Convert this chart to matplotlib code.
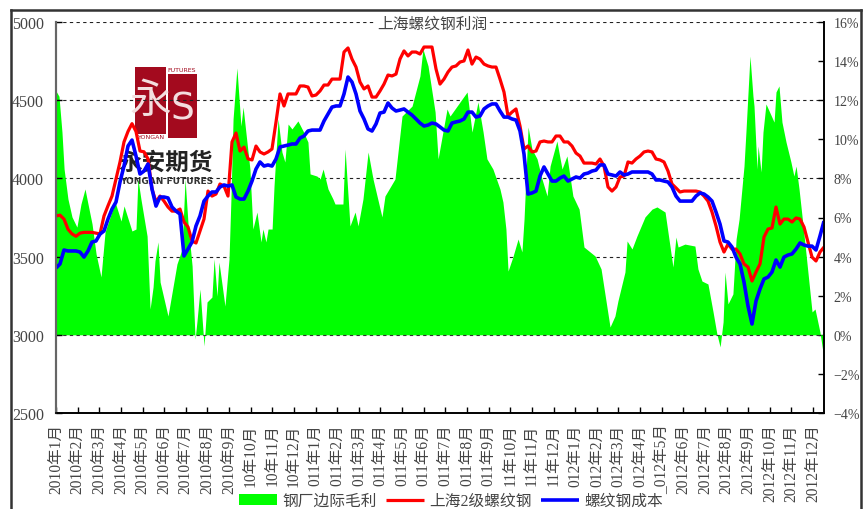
import numpy as np
import matplotlib
matplotlib.use('Agg')
import matplotlib.pyplot as plt
from matplotlib.lines import Line2D
from matplotlib.patches import Rectangle

# months since Jan 2010
margin_months = [0, .14, .28, .38, .56, .75, .98, 1.17, 1.36, 1.5, 1.69, 1.88, 2.11, 2.30, 2.77, 3.05, 3.19, 3.56, 3.75, 3.84, 3.98,
    4.27, 4.41, 4.55, 4.64, 4.78, 4.88, 5.25, 5.67, 5.91, 6.05, 6.19, 6.38, 6.52, 6.61, 6.75, 6.94, 7.08, 7.31, 7.41, 7.55, 7.64,
    7.92, 8.11, 8.2, 8.3, 8.48, 8.67, 8.77, 9.09, 9.23, 9.42, 9.61, 9.7, 9.84, 9.94, 10.13, 10.22, 10.41, 10.59, 10.73, 10.88, 11.06,
    11.34, 11.58, 11.81, 11.91, 12.23, 12.38, 12.52, 12.75, 12.98, 13.08, 13.45, 13.55, 13.78, 14.02, 14.16, 14.39, 14.63, 14.86,
    15.28, 15.42, 15.89, 16.22, 16.69, 17.06, 17.2, 17.44, 17.77, 17.91, 18.33, 18.47, 19.27, 19.5, 19.78, 20.02, 20.2, 20.48, 20.81,
    20.95, 21.09, 21.19, 21.42, 21.66, 21.84, 21.94, 22.13, 22.31, 22.55, 22.78, 23.02, 23.16, 23.48, 23.72, 23.95, 24.23, 24.52,
    24.75, 25.27, 25.55, 25.97, 26.2, 26.34, 26.67, 26.77, 27.0, 27.23, 27.61, 27.94, 28.17, 28.55, 28.92, 29.06, 29.16, 29.48, 29.95,
    30.09, 30.28, 30.56, 30.8, 30.98, 31.13, 31.27, 31.36, 31.5, 31.73, 31.88, 32.02, 32.25, 32.34, 32.53, 32.67, 32.72, 32.86, 32.91,
    33.05, 33.14, 33.28, 33.66, 33.75, 33.89, 34.03, 34.22, 34.45, 34.59, 34.69, 34.83, 35.02, 35.44, 35.58, 35.81, 36.0]
margin_pct = [12.47, 12.2, 10.37, 8.48, 6.95, 6.03, 5.51, 6.69, 7.46, 6.69, 5.67, 4.13, 2.96, 5.26, 6.79, 5.82, 6.59, 5.31, 5.41, 7.97, 6.95,
    5.05, 1.32, 2.44, 3.78, 4.75, 2.70, .96, 3.62, 4.39, 7.97, 5.67, 3.52, -.22, .71, 2.34, -.57, 1.68, 1.93, 3.88, 1.98, 3.72,
    1.47, 3.88, 6.95, 11.04, 13.65, 10.68, 11.65, 8.48, 5.41, 6.28, 4.75, 5.41, 4.75, 5.41, 5.41, 7.61, 11.04, 9.35, 8.84, 10.78, 10.53,
    10.94, 10.43, 9.86, 8.23, 8.12, 7.97, 8.48, 7.46, 6.95, 6.69, 6.69, 9.5, 5.57, 6.28, 5.57, 6.95, 9.35, 7.97,
    6.03, 7.1, 7.97, 11.19, 11.7, 13.24, 14.62, 13.75, 11.4, 9.0, 11.55, 11.19, 12.42, 10.37, 11.91, 10.37, 9.0, 8.48, 7.46,
    6.79, 5.41, 3.26, 4.0, 4.9, 4.24, 5.92, 10.63, 9.5, 9.0, 7.97, 7.1, 8.63, 9.91, 8.48, 9.15, 7.1, 6.43,
    4.49, 4.03, 3.37, .4, .96, 1.73, 3.21, 4.8, 4.39, 5.05, 6.03, 6.43, 6.54, 6.28, 3.47, 5.0, 4.49, 4.64, 4.54,
    3.37, 2.75, 2.6, 1.17, .04, -.62, .66, 3.21, 1.58, 2.09, 4.9, 5.92, 8.63, 10.37, 14.26, 12.21, 11.7, 8.48, 9.66,
    8.33, 10.37, 11.81, 10.88, 12.42, 12.73, 10.88, 9.86, 8.84, 8.12, 8.63, 7.46, 5.57, 1.17, 1.32, .14, -1.24]

# both prices are read every 0.1875 month
rebar_price = [3760, 3765, 3740, 3675, 3645, 3630, 3650, 3655, 3655, 3655, 3650, 3645, 3760, 3825, 3887, 3996, 4105, 4233, 4300, 4350,
    4300, 4175, 4170, 4125, 3932, 3849, 3887, 3855, 3817, 3791, 3791, 3804, 3721, 3689, 3600, 3587, 3664, 3740, 3919, 3887,
    3900, 3964, 3951, 3887, 4233, 4290, 4175, 4200, 4125, 4118, 4207, 4169, 4156, 4169, 4188, 4360, 4540, 4463, 4540, 4540,
    4540, 4591, 4591, 4584, 4527, 4533, 4559, 4597, 4597, 4635, 4635, 4635, 4808, 4834, 4763, 4712, 4616, 4572, 4591, 4520,
    4520, 4559, 4603, 4661, 4655, 4667, 4763, 4815, 4783, 4808, 4808, 4795, 4840, 4840, 4840, 4700, 4603, 4635, 4680, 4712,
    4719, 4744, 4751, 4821, 4731, 4776, 4763, 4731, 4719, 4712, 4712, 4635, 4552, 4399, 4424, 4444, 4335, 4188, 4207, 4169,
    4175, 4233, 4239, 4233, 4233, 4271, 4271, 4233, 4233, 4207, 4162, 4143, 4098, 4098, 4098, 4092, 4124, 4079, 3945, 3919,
    3945, 4009, 4015, 4105, 4098, 4124, 4143, 4169, 4175, 4169, 4124, 4118, 4105, 4047, 3964, 3939, 3913, 3919, 3919, 3919,
    3919, 3913, 3887, 3855, 3785, 3696, 3593, 3529, 3580, 3548, 3548, 3517, 3453, 3433, 3344, 3401, 3453, 3625, 3676, 3683,
    3817, 3708, 3740, 3740, 3721, 3747, 3740, 3689, 3593, 3497, 3472, 3529, 3561]
cost_price = [3427, 3453, 3542, 3536, 3536, 3536, 3529, 3497, 3536, 3593, 3600, 3644, 3664, 3740, 3804, 3849, 3977, 4079, 4207, 4245,
    4143, 4028, 4047, 4092, 3932, 3823, 3881, 3881, 3875, 3817, 3791, 3772, 3504, 3548, 3593, 3696, 3760, 3855, 3887, 3913,
    3913, 3945, 3958, 3951, 3958, 3881, 3868, 3868, 3919, 3983, 4060, 4105, 4079, 4086, 4079, 4124, 4201, 4207, 4213, 4220,
    4220, 4258, 4271, 4303, 4309, 4309, 4309, 4367, 4412, 4456, 4463, 4463, 4540, 4648, 4616, 4540, 4431, 4380, 4316, 4303,
    4348, 4418, 4424, 4482, 4450, 4431, 4437, 4444, 4424, 4405, 4380, 4354, 4335, 4341, 4354, 4348, 4329, 4309, 4303, 4354,
    4361, 4367, 4380, 4424, 4424, 4392, 4399, 4444, 4463, 4476, 4476, 4431, 4392, 4392, 4380, 4373, 4303, 4156, 3900, 3907,
    3919, 4015, 4073, 4028, 3983, 3983, 4002, 4015, 3983, 3996, 4009, 4002, 4028, 4034, 4047, 4053, 4086, 4086, 4028, 4022,
    4015, 4041, 4022, 4028, 4041, 4041, 4041, 4041, 4041, 4028, 3990, 3990, 3983, 3977, 3945, 3887, 3855, 3855, 3855, 3855,
    3887, 3907, 3900, 3881, 3855, 3785, 3708, 3600, 3593, 3561, 3497, 3453, 3337, 3184, 3069, 3216, 3293, 3357, 3369, 3401,
    3478, 3433, 3497, 3510, 3517, 3548, 3587, 3574, 3567, 3567, 3542, 3632, 3727]

month_labels = ['2010年1月', '2010年2月', '2010年3月', '2010年4月', '2010年5月', '2010年6月', '2010年7月', '2010年8月', '2010年9月',
    '10年10月', '10年11月', '10年12月', '011年1月', '011年2月', '011年3月', '011年4月', '011年5月', '011年6月', '011年7月', '011年8月', '011年9月',
    '11年10月', '11年11月', '11年12月', '012年1月', '012年2月', '012年3月', '012年4月', '_012年5月', '2012年6月', '2012年7月', '2012年8月', '2012年9月',
    '2012年10月', '2012年11月', '2012年12月']
price_ticks = [2500, 3000, 3500, 4000, 4500, 5000]
pct_ticks = [-4, -2, 0, 2, 4, 6, 8, 10, 12, 14, 16]

font_list = ['Liberation Serif', 'Noto Sans CJK SC']
plt.rcParams['font.family'] = font_list
text_col = '#444444'

# positions in reference pixels -> figure fractions
def fx(x):
    return x / 866
def fy(y):
    return 1 - y / 510

fig = plt.figure(figsize=(8.66, 5.1), dpi=100, facecolor='white')
ax = fig.add_axes([fx(56), fy(414), fx(824) - fx(56), fy(23) - fy(414)])
ax2 = ax.twinx()
ax.set_zorder(ax2.get_zorder() + 1)
ax.patch.set_visible(False)
ax2.patch.set_visible(False)

# dashed grid sits under the green area, 0% line on top of it
for v in [4, 8, 12, 16]:
    ax2.axhline(v, color='#222222', lw=0.8, ls=(0, (3, 3)), zorder=1)
ax2.axhline(0, color='#333333', lw=0.8, ls=(0, (3, 3)), zorder=3)

area = ax2.fill_between(margin_months, 0, margin_pct, color='#00FF00', lw=0, zorder=2, label='钢厂边际毛利')

line_x = np.arange(len(rebar_price)) * 0.1875
line1, = ax.plot(line_x, rebar_price, color='#FF0000', lw=2.3, solid_capstyle='butt', label='上海2级螺纹钢')
line2, = ax.plot(line_x, cost_price, color='#0000FF', lw=2.6, solid_capstyle='butt', label='螺纹钢成本')

ax.set_xlim(0, 36)
ax.set_ylim(2500, 5000)
ax2.set_ylim(-4, 16)
ax.set_yticks(price_ticks)
ax2.set_yticks(pct_ticks)
ax2.set_yticklabels(['−4%', '−2%', '0%', '2%', '4%', '6%', '8%', '10%', '12%', '14%', '16%'])
# axis stops around mid December, ticks are a bit wider than 1/36
ax.set_xticks(np.arange(36) * 1.014)
ax.set_xticklabels(month_labels, rotation=90)

ax.tick_params(axis='x', direction='in', length=4, width=1, pad=7.5, labelsize=11.2, labelcolor=text_col)
ax.tick_params(axis='y', direction='in', length=4, width=1, pad=8.5, labelsize=11.5, labelcolor=text_col)
ax2.tick_params(axis='y', direction='in', length=4, width=1, pad=7, labelsize=10, labelcolor=text_col)

for a in [ax, ax2]:
    a.spines['top'].set_visible(False)
    a.spines['left'].set_color('#666666')
    a.spines['left'].set_linewidth(1.5)
    a.spines['bottom'].set_linewidth(1.2)
    a.spines['right'].set_linewidth(1.2)

fig.text(fx(432), fy(25), '上海螺纹钢利润', ha='center', va='center', fontsize=11.3, color=text_col,
         bbox=dict(facecolor='white', edgecolor='none', pad=1), zorder=5)

leg = fig.legend([area, line1, line2], ['钢厂边际毛利', '上海2级螺纹钢', '螺纹钢成本'], ncol=3, loc='center left',
                 bbox_to_anchor=(fx(239), fy(502)), frameon=False, fontsize=11.3, labelcolor=text_col,
                 handlelength=2.4, handleheight=0.7, handletextpad=0.35, columnspacing=0.6, borderpad=0, borderaxespad=0)

# outer frame, open at the bottom
for xs, ys in [([11, 11], [11, 510]), ([11, 861], [11, 11]), ([861, 861], [11, 510])]:
    fig.add_artist(Line2D([fx(x) for x in xs], [fy(y) for y in ys], color='#333333', lw=1.8))

# company logo, behind the axes
logo_red = '#A30A1E'
for x0, y0, x1, y1 in [(135, 68, 166, 135), (168, 75, 197, 139)]:
    fig.add_artist(Rectangle((fx(x0), fy(y1)), fx(x1) - fx(x0), fy(y0) - fy(y1), facecolor=logo_red, edgecolor='none', zorder=-2))
fig.text(fx(150), fy(102), '永', ha='center', va='center', fontsize=30, color='#F3DEDF', zorder=-1, family='Noto Sans CJK SC')
fig.text(fx(182), fy(110), 'S', ha='center', va='center', fontsize=27, color='#F3DEDF', zorder=-1, family='DejaVu Sans')
fig.text(fx(182), fy(70.5), 'FUTURES', ha='center', va='center', fontsize=4.5, color=logo_red, zorder=-1, family='DejaVu Sans')
fig.text(fx(152), fy(137.5), 'YONGAN', ha='center', va='center', fontsize=4.5, color=logo_red, zorder=-1, family='DejaVu Sans')
fig.text(fx(166), fy(163), '永安期货', ha='center', va='center', fontsize=17, color='#222222', weight='bold', zorder=-1, family='Noto Sans CJK SC')
fig.text(fx(167), fy(181), 'YONGAN FUTURES', ha='center', va='center', fontsize=6.5, color='#333333', weight='bold', zorder=-1, family='DejaVu Sans')

fig.savefig('out.png', dpi=100)
